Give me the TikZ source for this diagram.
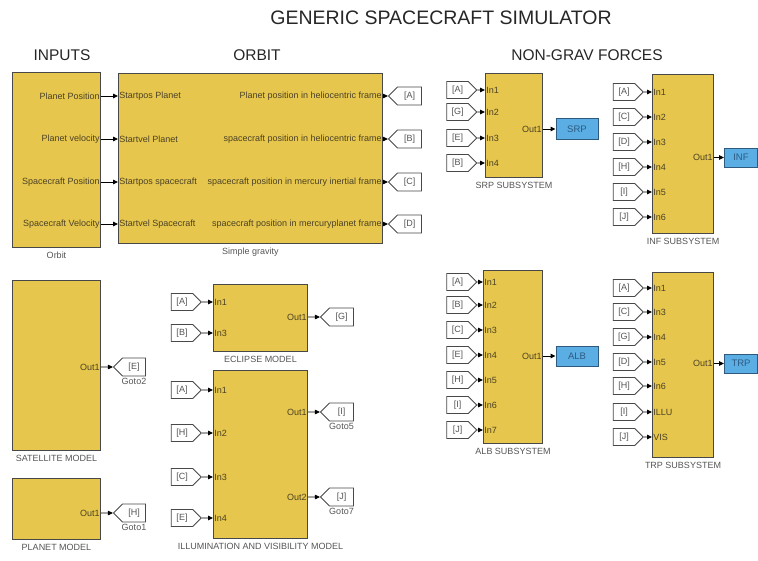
\documentclass[tikz,border=0pt]{standalone}
\usepackage{fontspec}
\setmainfont{Liberation Sans}
\usetikzlibrary{arrows.meta,positioning,shapes.symbols}
\definecolor{blockyellow}{HTML}{E6C64C}
\definecolor{blockedge}{HTML}{484848}
\definecolor{outblue}{HTML}{5BAEE4}
\definecolor{outedge}{HTML}{2E5A80}
\definecolor{porttext}{HTML}{4C4226}
\definecolor{graytext}{HTML}{555555}
\tikzset{
  title/.style={font=\fontsize{19.5}{22}\selectfont,text=black!85},
  section/.style={font=\fontsize{15.5}{18}\selectfont,text=black!85},
  caption/.style={font=\fontsize{9}{10}\selectfont,text=graytext,inner sep=1pt},
  port/.style={font=\fontsize{9}{10}\selectfont,text=porttext,inner sep=1.2pt},
  block/.style={draw=blockedge,fill=blockyellow,line width=1pt,anchor=north west,inner sep=0pt},
  outbox/.style={draw=outedge,fill=outblue,line width=0.9pt,inner sep=0pt,font=\fontsize{9.5}{11}\selectfont,text=outedge},
  fromtag/.style={signal,signal to=east,draw=blockedge,fill=white,line width=0.8pt,minimum width=30pt,minimum height=17pt,inner sep=1pt,font=\fontsize{9}{10}\selectfont,text=graytext},
  gototag/.style={fromtag,signal to=west,minimum width=33pt,minimum height=18pt},
  arr/.style={-{Triangle[length=5pt,width=4.5pt]},draw=black,line width=0.9pt}
}
\begin{document}
\begin{tikzpicture}[x=1pt,y=-1pt]
\path[use as bounding box] (0,0) rectangle (758,560);
\node[title] (ttl) at (441,18) {GENERIC SPACECRAFT SIMULATOR};
\node[section] (hin) at (62,55) {INPUTS};
\node[section] (hor) at (257,55) {ORBIT};
\node[section] (hng) at (587,55) {NON-GRAV FORCES};

% inputs and orbit
\node[block,minimum width=88pt,minimum height=175pt] (inp) at (12,72) {};
\node[block,minimum width=264pt,minimum height=170pt] (grav) at (118,73) {};
\node[caption,below=3pt of inp] {Orbit};
\node[caption,below=3pt of grav] {Simple gravity};
\node[gototag] (gA) at (409.5,96) {[A]}; \node[gototag] (gB) at (409.5,139) {[B]};
\node[gototag] (gC) at (409.5,182) {[C]}; \node[gototag] (gD) at (409.5,224) {[D]};
\draw[arr] (gA -| inp.east) -- (gA -| grav.west); \node[port,anchor=east] at (gA -| inp.east) {Planet Position}; \node[port,anchor=west] at (gA -| grav.west) {Startpos Planet};
\draw[arr] (gB -| inp.east) -- (gB -| grav.west); \node[port,anchor=east] at (gB -| inp.east) {Planet velocity}; \node[port,anchor=west] at (gB -| grav.west) {Startvel Planet};
\draw[arr] (gC -| inp.east) -- (gC -| grav.west); \node[port,anchor=east] at (gC -| inp.east) {Spacecraft Position}; \node[port,anchor=west] at (gC -| grav.west) {Startpos spacecraft};
\draw[arr] (gD -| inp.east) -- (gD -| grav.west); \node[port,anchor=east] at (gD -| inp.east) {Spacecraft Velocity}; \node[port,anchor=west] at (gD -| grav.west) {Startvel Spacecraft};
\draw[arr] (gA -| grav.east) -- (gA); \node[port,anchor=east] at (gA -| grav.east) {Planet position in heliocentric frame};
\draw[arr] (gB -| grav.east) -- (gB); \node[port,anchor=east] at (gB -| grav.east) {spacecraft position in heliocentric frame};
\draw[arr] (gC -| grav.east) -- (gC); \node[port,anchor=east] at (gC -| grav.east) {spacecraft position in mercury inertial frame};
\draw[arr] (gD -| grav.east) -- (gD); \node[port,anchor=east] at (gD -| grav.east) {spacecraft position in mercuryplanet frame};

% satellite and planet models
\node[block,minimum width=88pt,minimum height=170pt] (sat) at (12,280) {};
\node[caption,below=3pt of sat] {SATELLITE MODEL};
\node[gototag,minimum width=32pt] (gE) at (134,367) {[E]}; \node[caption,below=1pt of gE] {Goto2};
\draw[arr] (gE -| sat.east) -- (gE); \node[port,anchor=east] at (gE -| sat.east) {Out1};
\node[block,minimum width=88pt,minimum height=61pt] (pla) at (12,478) {};
\node[caption,below=3pt of pla] {PLANET MODEL};
\node[gototag,minimum width=32pt] (gH) at (134,513) {[H]}; \node[caption,below=1pt of gH] {Goto1};
\draw[arr] (gH -| pla.east) -- (gH); \node[port,anchor=east] at (gH -| pla.east) {Out1};

% eclipse model
\node[block,minimum width=94pt,minimum height=67pt] (ecl) at (213,284) {};
\node[caption,below=3pt of ecl] {ECLIPSE MODEL};
\node[fromtag] (e1) at (182,302) {[A]}; \draw[arr] (e1) -- (e1 -| ecl.west); \node[port,anchor=west] at (e1 -| ecl.west) {In1};
\node[fromtag] (e2) at (182,333) {[B]}; \draw[arr] (e2) -- (e2 -| ecl.west); \node[port,anchor=west] at (e2 -| ecl.west) {In3};
\node[gototag] (gG) at (341.5,317) {[G]};
\draw[arr] (gG -| ecl.east) -- (gG); \node[port,anchor=east] at (gG -| ecl.east) {Out1};

% illumination and visibility model
\node[block,minimum width=94pt,minimum height=168pt] (ill) at (213,370) {};
\node[caption,below=3pt of ill] {ILLUMINATION AND VISIBILITY MODEL};
\node[fromtag] (v1) at (182,390) {[A]}; \draw[arr] (v1) -- (v1 -| ill.west); \node[port,anchor=west] at (v1 -| ill.west) {In1};
\node[fromtag] (v2) at (182,433) {[H]}; \draw[arr] (v2) -- (v2 -| ill.west); \node[port,anchor=west] at (v2 -| ill.west) {In2};
\node[fromtag] (v3) at (182,477) {[C]}; \draw[arr] (v3) -- (v3 -| ill.west); \node[port,anchor=west] at (v3 -| ill.west) {In3};
\node[fromtag] (v4) at (182,518) {[E]}; \draw[arr] (v4) -- (v4 -| ill.west); \node[port,anchor=west] at (v4 -| ill.west) {In4};
\node[gototag] (gI) at (341.5,412) {[I]}; \node[caption,below=1pt of gI] {Goto5};
\node[gototag] (gJ) at (341.5,497) {[J]}; \node[caption,below=1pt of gJ] {Goto7};
\draw[arr] (gI -| ill.east) -- (gI); \node[port,anchor=east] at (gI -| ill.east) {Out1};
\draw[arr] (gJ -| ill.east) -- (gJ); \node[port,anchor=east] at (gJ -| ill.east) {Out2};

% SRP subsystem
\node[block,minimum width=57pt,minimum height=104pt] (srp) at (485,73) {};
\node[caption,below=3pt of srp] {SRP SUBSYSTEM};
\node[fromtag] (s1) at (457.5,90) {[A]}; \draw[arr] (s1) -- (s1 -| srp.west); \node[port,anchor=west] at (s1 -| srp.west) {In1};
\node[fromtag] (s2) at (457.5,112) {[G]}; \draw[arr] (s2) -- (s2 -| srp.west); \node[port,anchor=west] at (s2 -| srp.west) {In2};
\node[fromtag] (s3) at (457.5,138) {[E]}; \draw[arr] (s3) -- (s3 -| srp.west); \node[port,anchor=west] at (s3 -| srp.west) {In3};
\node[fromtag] (s4) at (457.5,163) {[B]}; \draw[arr] (s4) -- (s4 -| srp.west); \node[port,anchor=west] at (s4 -| srp.west) {In4};
\node[outbox,minimum width=42pt,minimum height=21pt] (srpo) at (577,129) {SRP};
\draw[arr] (srpo -| srp.east) -- (srpo); \node[port,anchor=east] at (srpo -| srp.east) {Out1};

% INF subsystem
\node[block,minimum width=61pt,minimum height=159pt] (inf) at (652,74) {};
\node[caption,below=3pt of inf] {INF SUBSYSTEM};
\node[fromtag] (f1) at (624,92) {[A]}; \draw[arr] (f1) -- (f1 -| inf.west); \node[port,anchor=west] at (f1 -| inf.west) {In1};
\node[fromtag] (f2) at (624,117) {[C]}; \draw[arr] (f2) -- (f2 -| inf.west); \node[port,anchor=west] at (f2 -| inf.west) {In2};
\node[fromtag] (f3) at (624,142) {[D]}; \draw[arr] (f3) -- (f3 -| inf.west); \node[port,anchor=west] at (f3 -| inf.west) {In3};
\node[fromtag] (f4) at (624,167) {[H]}; \draw[arr] (f4) -- (f4 -| inf.west); \node[port,anchor=west] at (f4 -| inf.west) {In4};
\node[fromtag] (f5) at (624,192) {[I]}; \draw[arr] (f5) -- (f5 -| inf.west); \node[port,anchor=west] at (f5 -| inf.west) {In5};
\node[fromtag] (f6) at (624,217) {[J]}; \draw[arr] (f6) -- (f6 -| inf.west); \node[port,anchor=west] at (f6 -| inf.west) {In6};
\node[outbox,minimum width=33pt,minimum height=19pt] (info) at (741,157.5) {INF};
\draw[arr] (info -| inf.east) -- (info); \node[port,anchor=east] at (info -| inf.east) {Out1};

% ALB subsystem
\node[block,minimum width=59pt,minimum height=173pt] (alb) at (483,270) {};
\node[caption,below=3pt of alb] {ALB SUBSYSTEM};
\node[fromtag] (a1) at (457.5,282) {[A]}; \draw[arr] (a1) -- (a1 -| alb.west); \node[port,anchor=west] at (a1 -| alb.west) {In1};
\node[fromtag] (a2) at (457.5,305) {[B]}; \draw[arr] (a2) -- (a2 -| alb.west); \node[port,anchor=west] at (a2 -| alb.west) {In2};
\node[fromtag] (a3) at (457.5,330) {[C]}; \draw[arr] (a3) -- (a3 -| alb.west); \node[port,anchor=west] at (a3 -| alb.west) {In3};
\node[fromtag] (a4) at (457.5,355) {[E]}; \draw[arr] (a4) -- (a4 -| alb.west); \node[port,anchor=west] at (a4 -| alb.west) {In4};
\node[fromtag] (a5) at (457.5,380) {[H]}; \draw[arr] (a5) -- (a5 -| alb.west); \node[port,anchor=west] at (a5 -| alb.west) {In5};
\node[fromtag] (a6) at (457.5,405) {[I]}; \draw[arr] (a6) -- (a6 -| alb.west); \node[port,anchor=west] at (a6 -| alb.west) {In6};
\node[fromtag] (a7) at (457.5,430) {[J]}; \draw[arr] (a7) -- (a7 -| alb.west); \node[port,anchor=west] at (a7 -| alb.west) {In7};
\node[outbox,minimum width=42pt,minimum height=20pt] (albo) at (577,356) {ALB};
\draw[arr] (albo -| alb.east) -- (albo); \node[port,anchor=east] at (albo -| alb.east) {Out1};

% TRP subsystem
\node[block,minimum width=61pt,minimum height=185pt] (trp) at (652,272) {};
\node[caption,below=3pt of trp] {TRP SUBSYSTEM};
\node[fromtag] (t1) at (624,288) {[A]}; \draw[arr] (t1) -- (t1 -| trp.west); \node[port,anchor=west] at (t1 -| trp.west) {In1};
\node[fromtag] (t2) at (624,312) {[C]}; \draw[arr] (t2) -- (t2 -| trp.west); \node[port,anchor=west] at (t2 -| trp.west) {In3};
\node[fromtag] (t3) at (624,337) {[G]}; \draw[arr] (t3) -- (t3 -| trp.west); \node[port,anchor=west] at (t3 -| trp.west) {In4};
\node[fromtag] (t4) at (624,362) {[D]}; \draw[arr] (t4) -- (t4 -| trp.west); \node[port,anchor=west] at (t4 -| trp.west) {In5};
\node[fromtag] (t5) at (624,386) {[H]}; \draw[arr] (t5) -- (t5 -| trp.west); \node[port,anchor=west] at (t5 -| trp.west) {In6};
\node[fromtag] (t6) at (624,412) {[I]}; \draw[arr] (t6) -- (t6 -| trp.west); \node[port,anchor=west] at (t6 -| trp.west) {ILLU};
\node[fromtag] (t7) at (624,437) {[J]}; \draw[arr] (t7) -- (t7 -| trp.west); \node[port,anchor=west] at (t7 -| trp.west) {VIS};
\node[outbox,minimum width=33pt,minimum height=19pt] (trpo) at (741,363.5) {TRP};
\draw[arr] (trpo -| trp.east) -- (trpo); \node[port,anchor=east] at (trpo -| trp.east) {Out1};
\end{tikzpicture}
\end{document}
